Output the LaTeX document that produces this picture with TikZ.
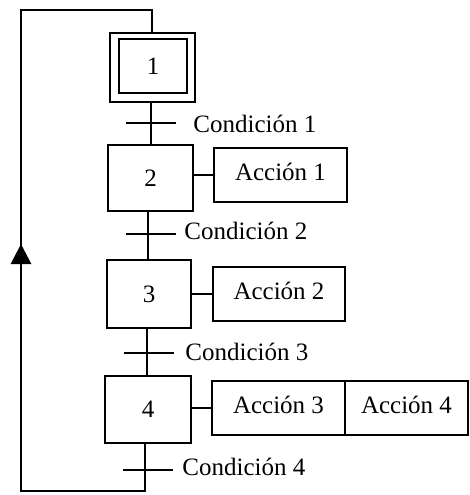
\documentclass[tikz,border=0pt]{standalone}
\usepackage{fontspec}
\setmainfont{Liberation Serif}
\usetikzlibrary{arrows.meta}
\begin{document}
\begin{tikzpicture}[x=1pt,y=-1pt, line width=2.9pt,
  txt/.style={font=\fontsize{25}{29}\selectfont},
  stepbox/.style={draw, rectangle, inner sep=0pt, txt},
  actbox/.style={draw, rectangle, inner sep=0pt, txt, text height=16pt, text depth=6pt},
  cond/.style={anchor=base west, inner sep=0pt, txt}]
\useasboundingbox (0,0) rectangle (469,495);
% steps
\node[stepbox, minimum width=85pt, minimum height=69pt] (s1o) at (152.5,67.5) {};
\node[stepbox, minimum width=68pt, minimum height=54pt] (s1) at (153,66) {1};
\node[stepbox, minimum width=85pt, minimum height=66pt] (s2) at (150.5,178) {2};
\node[stepbox, minimum width=84pt, minimum height=68pt] (s3) at (149,294) {3};
\node[stepbox, minimum width=86pt, minimum height=67pt] (s4) at (148,409.5) {4};
% actions
\node[actbox, minimum width=133pt, minimum height=54pt] (a1) at (280.5,175) {Acción 1};
\node[actbox, minimum width=132pt, minimum height=54pt] (a2) at (279,294) {Acción 2};
\node[actbox, minimum width=133pt, minimum height=54pt] (a3) at (278.5,408) {Acción 3};
\node[actbox, minimum width=123pt, minimum height=54pt] (a4) at (406.5,408) {Acción 4};
% action links
\draw (s2.east |- a1) -- (a1.west);
\draw (s3.east |- a2) -- (a2.west);
\draw (s4.east |- a3) -- (a3.west);
% transitions
\coordinate (t1) at (151,123);
\coordinate (t2) at (148,234);
\coordinate (t3) at (147,353);
\coordinate (t4) at (145,470);
\draw (s1o.south -| t1) -- (s2.north -| t1);
\draw (s2.south -| t2) -- (s3.north -| t2);
\draw (s3.south -| t3) -- (s4.north -| t3);
\draw ([xshift=-25pt]t1) -- ([xshift=25pt]t1);
\draw ([xshift=-22pt]t2) -- ([xshift=28pt]t2);
\draw ([xshift=-23pt]t3) -- ([xshift=27pt]t3);
\draw ([xshift=-22pt]t4) -- ([xshift=28pt]t4);
\node[cond] (c1) at (192,132) {Condición 1};
\node[cond] (c2) at (183,239) {Condición 2};
\node[cond] (c3) at (184,360) {Condición 3};
\node[cond] (c4) at (181,475) {Condición 4};
% loop back
\coordinate (lb4) at (145,491);
\coordinate (lbl) at (21,491);
\coordinate (ltl) at (21,10);
\coordinate (ltr) at (152,10);
\coordinate (arr) at (21,244);
\draw (s4.south -| t4) -- (lb4) -- (lbl) -- (ltl) -- (ltr) -- (s1o.north -| ltr);
\draw[-{Triangle[width=20pt,length=20pt]}] (lbl) -- (arr);
\end{tikzpicture}
\end{document}
